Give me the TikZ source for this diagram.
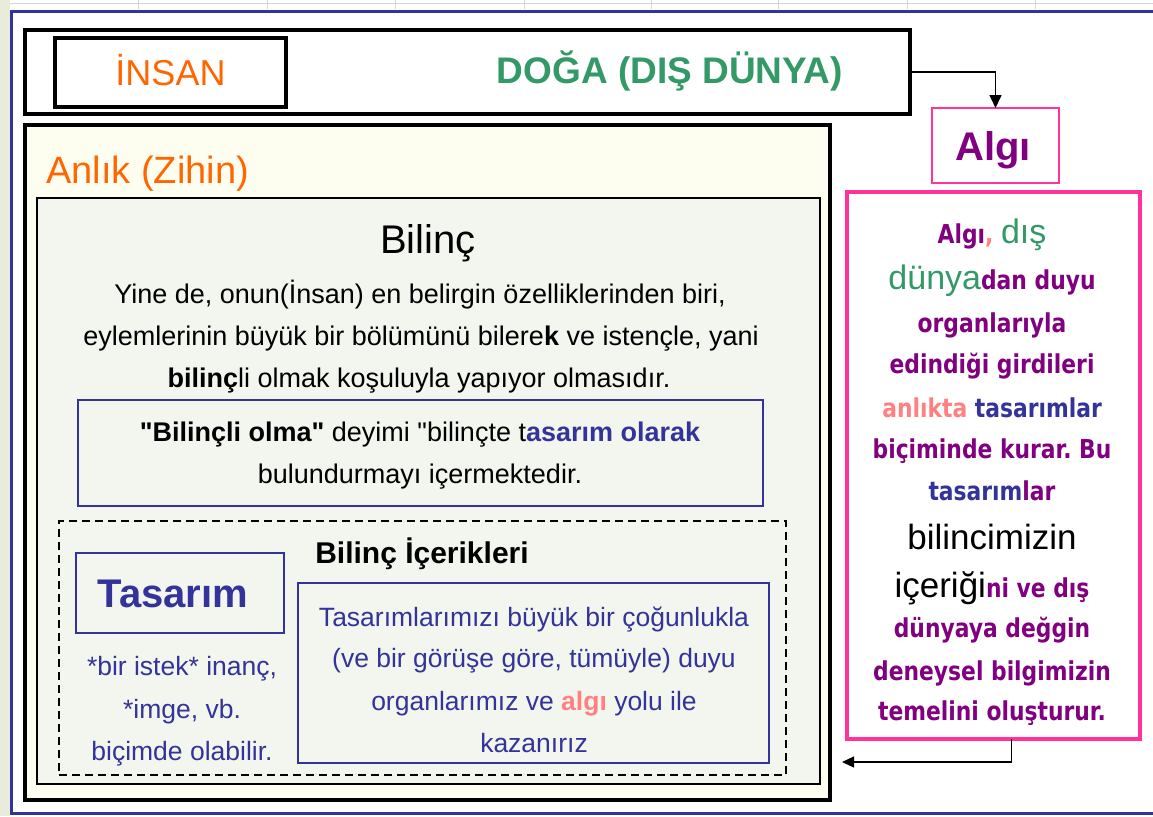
\documentclass[tikz,border=0pt]{standalone}
\usepackage{fontspec}
\setmainfont{Liberation Sans}
\newfontfamily\dvb[FakeStretch=0.84]{DejaVu Sans}
\usetikzlibrary{arrows.meta}
\definecolor{orng}{HTML}{FF6600}
\definecolor{grn}{HTML}{339966}
\definecolor{purp}{HTML}{800080}
\definecolor{pinkT}{HTML}{FF3399}
\definecolor{blueT}{HTML}{333399}
\definecolor{salmon}{HTML}{FF8080}
\definecolor{anlikfill}{HTML}{FDFDF0}
\definecolor{bilfill}{HTML}{F2F6EE}
\definecolor{stripc}{HTML}{E9ECDA}
\definecolor{rulerc}{HTML}{D4D4D4}
\newcommand{\fsz}[1]{\fontsize{#1}{#1}\selectfont}
\frenchspacing
\begin{document}
\begin{tikzpicture}[x=1pt,y=-1pt,
  box/.style={draw, inner sep=0pt, outer sep=0pt},
  txt/.style={inner sep=0pt, anchor=base, align=center},
  pk/.style={txt, font=\dvb\bfseries\fsz{26}, text=purp},
  body/.style={txt, font=\fsz{27}},
  conn/.style={line width=1.5pt, -{Triangle[length=13pt,width=12pt]}}]
\useasboundingbox (0,0) rectangle (1153,816);
\fill[white] (0,0) rectangle (1153,816);
% window decoration
\fill[stripc] (0,0) rectangle (10,816);
\draw[rulerc, line width=1pt] (10,4) -- (1153,4);
\foreach \t in {138,267,395,524,651,778,907,1035}
  \draw[rulerc, line width=1pt] (\t,0) -- (\t,9);
\draw[blueT, line width=3pt] (10,11.5) -- (1153,11.5);
\draw[blueT, line width=3pt] (11.5,10) -- (11.5,814);
\draw[blueT, line width=3pt] (10,813) -- (1153,813);

% top box
\node[box, line width=4pt, minimum width=885pt, minimum height=84pt] (topbox) at (467.5,72) {};
\node[box, line width=3.5pt, minimum width=231pt, minimum height=69pt] (insanbox) at (170.5,72.5) {};
\node[txt, font=\fsz{36}, text=orng] (insan) at (170.5,85) {İNSAN};
\node[txt, font=\bfseries\fsz{37}, text=grn] (doga) at (670,84) {DOĞA (DIŞ DÜNYA)};

% Anlik box
\node[box, line width=4pt, fill=anlikfill, minimum width=805pt, minimum height=675pt] (anlik) at (427.5,462.5) {};
\node[txt, anchor=base west, font=\fsz{38}, text=orng] (anliktxt) at (46,183) {Anlık (Zihin)};

% Bilinc box
\node[box, line width=1.5pt, fill=bilfill, minimum width=783pt, minimum height=586pt] (bilinc) at (428.5,491) {};
\node[txt, font=\fsz{40}] (bilinctitle) at (428,253) {Bilinç};
\node[body] (par1) at (420,303) {Yine de, onun(İnsan) en belirgin özelliklerinden biri,};
\node[body] (par2) at (421,345) {eylemlerinin büyük bir bölümünü bilere\textbf{k} ve istençle, yani};
\node[body] (par3) at (419,387) {\textbf{bilinç}li olmak koşuluyla yapıyor olmasıdır.};

\node[box, draw=blueT, line width=2pt, minimum width=685pt, minimum height=106pt] (olmabox) at (420.5,453) {};
\node[body] (olma1) at (420,441) {\textbf{\textquotedbl Bilinçli olma\textquotedbl} deyimi \textquotedbl bilinçte t\textbf{\color{blueT}asarım olarak}};
\node[body] (olma2) at (420,483) {bulundurmayı içermektedir.};

% dashed box
\node[box, line width=2.5pt, dash pattern=on 8pt off 5pt, minimum width=727pt, minimum height=254pt] (icerik) at (422.5,648) {};
\node[txt, font=\bfseries\fsz{30}] (iceriktitle) at (422,563) {Bilinç İçerikleri};

\node[box, draw=blueT, line width=2pt, minimum width=208pt, minimum height=80pt] (tasarimbox) at (180,593) {};
\node[txt, font=\bfseries\fsz{40}, text=blueT] (tasarim) at (173,607) {Tasarım};
\node[body, font=\fsz{26.5}, text=blueT] (not1) at (182,675) {*bir istek* inanç,};
\node[body, font=\fsz{26.5}, text=blueT] (not2) at (182,718) {*imge, vb.};
\node[body, font=\fsz{26.5}, text=blueT] (not3) at (182,760) {biçimde olabilir.};

\node[box, draw=blueT, line width=2pt, minimum width=471pt, minimum height=180pt] (kazbox) at (533.5,673) {};
\node[body, font=\fsz{26.5}, text=blueT] (kaz1) at (534,626) {Tasarımlarımızı büyük bir çoğunlukla};
\node[body, font=\fsz{26.5}, text=blueT] (kaz2) at (534,667) {(ve bir görüşe göre, tümüyle) duyu};
\node[body, font=\fsz{26.5}, text=blueT] (kaz3) at (534,710) {organlarımız ve \textbf{\color{salmon}algı} yolu ile};
\node[body, font=\fsz{26.5}, text=blueT] (kaz4) at (534,752) {kazanırız};

% Algi box
\node[box, draw=pinkT, line width=2pt, minimum width=127pt, minimum height=75pt] (algi) at (995.5,145.5) {};
\node[txt, font=\bfseries\fsz{40}, text=purp] (algitxt) at (993,160) {Algı};

% pink box
\node[box, draw=pinkT, line width=4pt, minimum width=293pt, minimum height=547pt] (pinkbox) at (993.5,465.5) {};
\node[pk] (p1) at (992,243) {Algı{\color{salmon},} {\normalfont\fsz{34}\color{grn}dış}};
\node[pk] (p2) at (992,289) {{\normalfont\fsz{34}\color{grn}dünya}dan duyu};
\node[pk] (p3) at (992,332) {organlarıyla};
\node[pk] (p4) at (992,373) {edindiği girdileri};
\node[pk] (p5) at (992,417) {{\color{salmon}anlıkta} {\color{blueT}tasarımlar}};
\node[pk] (p6) at (992,458) {biçiminde kurar. Bu};
\node[pk] (p7) at (992,500) {{\color{blueT}tasarım}lar};
\node[txt, font=\fsz{35}] (p8) at (992,549) {bilincimizin};
\node[pk] (p9) at (992,597) {{\normalfont\fsz{35}\color{black}içeriği}ni ve dış};
\node[pk] (p10) at (992,637) {dünyaya değgin};
\node[pk] (p11) at (992,680) {deneysel bilgimizin};
\node[pk] (p12) at (992,720) {temelini oluşturur.};

% connectors
\draw[conn] (topbox.east) -| (algi.north);
\coordinate (rettip) at (842,762);
\draw[conn, line width=1.3pt, -{Triangle[length=12pt,width=11pt]}] ([xshift=18pt]pinkbox.south) |- (rettip);
\end{tikzpicture}
\end{document}
